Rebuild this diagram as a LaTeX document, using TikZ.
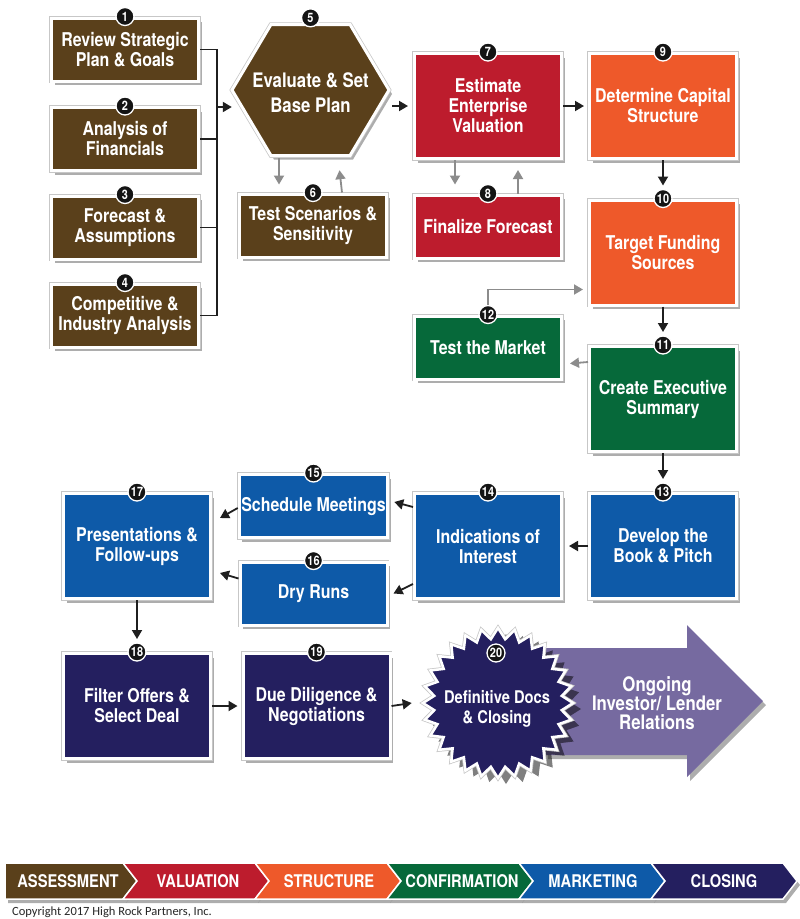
\documentclass[tikz,border=0pt]{standalone}
\usepackage{fontspec}
\newfontfamily\cond[FakeStretch=0.84]{TeX Gyre Heros}
\newfontfamily\copyfont{Carlito}
\usetikzlibrary{arrows.meta,shapes.geometric,shadows,calc}
\definecolor{cAss}{RGB}{90,64,27}
\definecolor{cVal}{RGB}{189,28,45}
\definecolor{cStr}{RGB}{238,89,42}
\definecolor{cCon}{RGB}{6,105,58}
\definecolor{cMkt}{RGB}{14,90,168}
\definecolor{cClo}{RGB}{36,31,95}
\definecolor{cArr}{RGB}{118,106,160}
\tikzset{
  shad/.style={drop shadow={shadow xshift=3pt,shadow yshift=-4pt,opacity=0.32,fill=black}},
  box/.style={rectangle, fill=#1, draw=white, line width=3pt, text=white, align=center,
    inner sep=2pt, font=\cond\bfseries\fontsize{19}{20}\selectfont, shad,
    preaction={draw=black!22, line width=4.5pt}},
  small/.style={minimum width=147pt, minimum height=63pt},
  tall/.style={minimum width=147pt, minimum height=105pt},
  badge/.style={circle, fill=black!92, draw=white, line width=1.3pt, text=white,
    inner sep=0pt, minimum size=18pt, font=\cond\bfseries\fontsize{13}{13}\selectfont},
  arr/.style={draw=black!88, line width=1.8pt, -{Triangle[length=9pt,width=10pt]}},
  garr/.style={draw=black!45, line width=1.8pt, -{Triangle[length=9pt,width=10pt]}},
  conn/.style={draw=black!88, line width=1.8pt},
  seg/.style={fill=#1, draw=white, line width=1.5pt, shad},
  seglabel/.style={text=white, inner sep=0pt, font=\cond\bfseries\fontsize{17.5}{18}\selectfont},
  wtext/.style={text=white, align=center, inner sep=0pt}
}
\begin{document}
\begin{tikzpicture}[x=1pt,y=-1pt]
\useasboundingbox (0,0) rectangle (800,919);
\fill[white] (0,0) rectangle (800,919);

% big arrow
\path[fill=cArr, shad] (545,648) -- (687,648) -- (687,625) -- (763,701) -- (687,777) -- (687,755) -- (545,755) -- cycle;
\node[wtext, font=\cond\bfseries\fontsize{20}{19}\selectfont] (n21) at (657,703) {Ongoing\\Investor/ Lender\\Relations};

% hexagon (step 5)
\path[fill=cAss, draw=white, line width=3pt, shad, preaction={draw=black!22, line width=4.5pt}]
  (232,90) -- (271,24.5) -- (350,24.5) -- (389,90) -- (350,155.5) -- (271,155.5) -- cycle;
\node[wtext, rectangle, minimum width=157pt, minimum height=131pt,
      font=\cond\bfseries\fontsize{20}{25}\selectfont] (n5) at (310.5,92.5) {Evaluate \& Set\\Base Plan};

% boxes
\node[box=cAss, small] (n1) at (125,49.5) {Review Strategic\\Plan \& Goals};
\node[box=cAss, small] (n2) at (125,139) {Analysis of\\Financials};
\node[box=cAss, small] (n3) at (125,227.5) {Forecast \&\\Assumptions};
\node[box=cAss, small] (n4) at (125,315.5) {Competitive \&\\Industry Analysis};
\node[box=cAss, small] (n6) at (313,225.5) {Test Scenarios \&\\Sensitivity};
\node[box=cVal, tall] (n7) at (488,106) {Estimate\\Enterprise\\Valuation};
\node[box=cVal, small] (n8) at (488,226.5) {Finalize Forecast};
\node[box=cStr, tall] (n9) at (663,106) {Determine Capital\\Structure};
\node[box=cStr, tall] (n10) at (663,252.5) {Target Funding\\Sources};
\node[box=cCon, tall] (n11) at (663,399) {Create Executive\\Summary};
\node[box=cCon, small] (n12) at (488,347.5) {Test the Market};
\node[box=cMkt, tall] (n13) at (663,546) {Develop the\\Book \& Pitch};
\node[box=cMkt, tall] (n14) at (488,546) {Indications of\\Interest};
\node[box=cMkt, small] (n15) at (313.5,506) {Schedule Meetings};
\node[box=cMkt, small] (n16) at (313.5,593.5) {Dry Runs};
\node[box=cMkt, tall] (n17) at (137,546) {Presentations \&\\Follow-ups};
\node[box=cClo, tall] (n18) at (137,706) {Filter Offers \&\\Select Deal};
\node[box=cClo, tall] (n19) at (316.5,706) {Due Diligence \&\\Negotiations};

% starburst (step 20)
\node[star, star points=28, star point ratio=1.17, minimum size=150pt, fill=cClo, draw=white,
      line width=2.5pt, inner sep=0pt,
      drop shadow={shadow xshift=8pt,shadow yshift=-6pt,opacity=0.5,fill=black},
      preaction={draw=black!22, line width=4pt}] (n20) at (498,703) {};
\node[wtext, font=\cond\bfseries\fontsize{17.5}{20}\selectfont] (t20) at (497,709) {Definitive Docs\\\& Closing};

% connectors
\coordinate (j) at (217,107);
\draw[conn] (n1.east) -| (j);
\draw[conn] (n4.east) -| (j);
\draw[conn] (n2.east) -- (n2.east -| j);
\draw[conn] (n3.east) -- (n3.east -| j);
\draw[arr] (j) -- (j -| n5.west);
\draw[garr] ([xshift=-34pt]n6.north |- n5.south) -- ([xshift=-34pt,yshift=8pt]n6.north);
\draw[garr] ([xshift=29pt]n6.north) -- ([xshift=29pt,yshift=-12pt]n5.south);
\draw[arr] ([xshift=3pt]n7.west -| n5.east) -- ([xshift=-5pt]n7.west);
\draw[arr] (n7.east) -- ([xshift=-4pt]n9.west);
\draw[garr] ([xshift=-33pt]n7.south) -- ([xshift=-33pt,yshift=9pt]n8.north);
\draw[garr] ([xshift=30pt]n8.north) -- ([xshift=30pt,yshift=-10pt]n7.south);
\draw[arr] (n9.south) -- ([yshift=13pt]n10.north);
\draw[arr] (n10.south) -- ([yshift=13pt]n11.north);
\draw[garr] ($(n11.north west)+(0,17)$) -- ($(n12.east)+(7,16)$);
\draw[arr] (n11.south) -- ([yshift=13pt]n13.north);
\draw[arr] (n13.west) -- ([xshift=6pt]n14.east);
\draw[arr] ($(n14.north west)+(0,15)$) -- ($(n15.east)+(5,-4)$);
\draw[arr] ($(n14.south west)+(0,-16)$) -- ($(n16.east)+(5,0)$);
\draw[arr] ($(n15.west)+(0,2)$) -- ($(n17.east)+(8,-28)$);
\draw[arr] ($(n16.west)+(0,-15)$) -- ($(n17.east)+(8,27)$);
\draw[arr] (n17.south) -- ([yshift=13pt]n18.north);
\draw[arr] (n18.east) -- ([xshift=-4pt]n19.west);
\draw[arr] (n19.east) -- ([xshift=-9pt]n20.west);

% badges
\node[badge] (b1) at (n1.north) {1};
\node[badge] (b2) at (n2.north) {2};
\node[badge] (b3) at (n3.north) {3};
\node[badge] (b4) at (n4.north) {4};
\node[badge] (b5) at ([yshift=9pt]n5.north) {5};
\node[badge] (b6) at (n6.north) {6};
\node[badge] (b7) at (n7.north) {7};
\node[badge] (b8) at (n8.north) {8};
\node[badge] (b9) at (n9.north) {9};
\node[badge] (b10) at (n10.north) {10};
\node[badge] (b11) at (n11.north) {11};
\node[badge] (b12) at (n12.north) {12};
\draw[garr] (b12.north) |- ($(n10.south west)+(-5,-17)$);
\node[badge] (b13) at (n13.north) {13};
\node[badge] (b14) at (n14.north) {14};
\node[badge] (b15) at (n15.north) {15};
\node[badge] (b16) at (n16.north) {16};
\node[badge] (b17) at (n17.north) {17};
\node[badge] (b18) at (n18.north) {18};
\node[badge] (b19) at (n19.north) {19};
\node[badge] (b20) at ($(n20.center)+(-2,-50)$) {20};

% phase bar
\path[seg=cAss] (5,863) -- (123,863) -- (137,881) -- (123,899) -- (5,899) -- cycle;
\path[seg=cVal] (123,863) -- (255,863) -- (269,881) -- (255,899) -- (123,899) -- (137,881) -- cycle;
\path[seg=cStr] (255,863) -- (387,863) -- (401,881) -- (387,899) -- (255,899) -- (269,881) -- cycle;
\path[seg=cCon] (387,863) -- (519,863) -- (533,881) -- (519,899) -- (387,899) -- (401,881) -- cycle;
\path[seg=cMkt] (519,863) -- (651,863) -- (665,881) -- (651,899) -- (519,899) -- (533,881) -- cycle;
\path[seg=cClo] (651,863) -- (783,863) -- (797,881) -- (783,899) -- (651,899) -- (665,881) -- cycle;
\node[seglabel] (l1) at (68,881) {ASSESSMENT};
\node[seglabel] (l2) at (198,881) {VALUATION};
\node[seglabel] (l3) at (329,881) {STRUCTURE};
\node[seglabel] (l4) at (462,881) {CONFIRMATION};
\node[seglabel] (l5) at (593,881) {MARKETING};
\node[seglabel] (l6) at (724,881) {CLOSING};

\node[anchor=west, inner sep=0pt, text=black!85, font=\copyfont\fontsize{12.5}{12.5}\selectfont] (copy) at (12,912) {Copyright 2017 High Rock Partners, Inc.};
\end{tikzpicture}
\end{document}
